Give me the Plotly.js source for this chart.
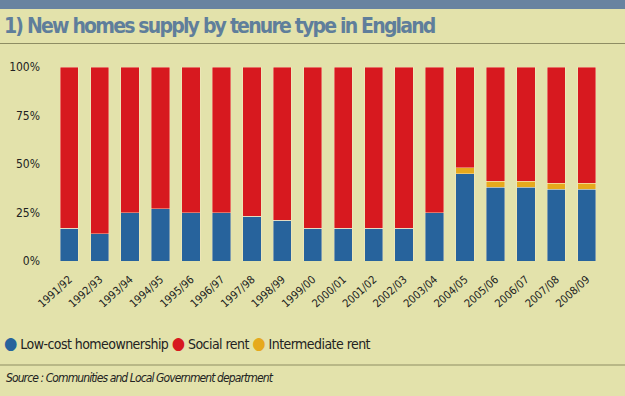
<!DOCTYPE html>
<html><head><meta charset="utf-8">
<script src="https://cdn.plot.ly/plotly-3.0.1.min.js"></script>
<style>html,body{margin:0;padding:0;background:#e3e2ab;}</style>
</head><body><div id="chart" style="width:625px;height:396px;"></div>
<script>
const years = ["1991/92","1992/93","1993/94","1994/95","1995/96","1996/97","1997/98","1998/99","1999/00","2000/01","2001/02","2002/03","2003/04","2004/05","2005/06","2006/07","2007/08","2008/09"];
const lowCost = [17,14,25,27,25,25,23,21,17,17,17,17,25,45,38,38,37,37];
const intermediate = [0,0,0,0,0,0,0,0,0,0,0,0,0,3,3,3,3,3];
const social = [83,86,75,73,75,75,77,79,83,83,83,83,75,52,59,59,60,60];
const yTicks = [0,25,50,75,100];
const yTickText = ["0%","25%","50%","75%","100%"];

const W = 625, H = 396, M = {l:54, r:23, t:67, b:135};
const plotH = H - M.t - M.b;
const py = y => (H - M.b - y) / plotH;   // pixel row -> paper y
const plotW = W - M.l - M.r;
const px = x => (x - M.l) / plotW;       // pixel col -> paper x

const edge = {color:'rgba(250,235,200,0.7)', width:0.6};
const traces = [
  {type:'bar', name:'Low-cost homeownership', x:years, y:lowCost, marker:{color:'#27639c', line:edge}, showlegend:false, hoverinfo:'skip'},
  {type:'bar', name:'Intermediate rent', x:years, y:intermediate, marker:{color:'#e6a91c', line:edge}, showlegend:false, hoverinfo:'skip'},
  {type:'bar', name:'Social rent', x:years, y:social, marker:{color:'#d7191f', line:edge}, showlegend:false, hoverinfo:'skip'}
];
const cond = '"DejaVu Sans Condensed", "Liberation Sans Narrow", sans-serif';
const layout = {
  width:W, height:H, margin:M,
  paper_bgcolor:'#e3e2ab', plot_bgcolor:'#e3e2ab',
  barmode:'stack', bargap:0.4,
  xaxis:{type:'category', tickangle:-42, showgrid:false, zeroline:false, showline:false, ticks:'',
         ticklabelstandoff:9, tickfont:{family:cond, size:11, color:'#222'}},
  yaxis:{range:[0,100], tickvals:yTicks, ticktext:yTickText, showgrid:false, zeroline:false, showline:false, ticks:'',
         ticklabelstandoff:13, tickfont:{family:cond, size:12, color:'#222'}},
  shapes:[
    {type:'rect', xref:'paper', yref:'paper', x0:px(0), x1:px(W), y0:py(0), y1:py(9), fillcolor:'#6883a0', line:{width:0}},
    {type:'line', xref:'paper', yref:'paper', x0:px(0), x1:px(W), y0:py(43.5), y1:py(43.5), line:{color:'#8e8d63', width:1}},
    {type:'line', xref:'paper', yref:'paper', x0:px(0), x1:px(W), y0:py(365), y1:py(365), line:{color:'#8e8d63', width:1}}
  ],
  annotations:[
    {xref:'paper', yref:'paper', x:px(2), y:py(26), xanchor:'left', yanchor:'middle', showarrow:false,
     text:'<span style="letter-spacing:-1.8px"><b>1) New homes supply by tenure type in England</b></span>', font:{family:cond, size:21, color:'#5f7e9b'}},
    {xref:'paper', yref:'paper', x:px(2), y:py(343), xanchor:'left', yanchor:'middle', showarrow:false,
     text:'<span style="letter-spacing:-0.55px"><span style="color:#27639c;font-size:17px">●</span> Low-cost homeownership <span style="color:#d7191f;font-size:17px">●</span> Social rent <span style="color:#e6a91c;font-size:17px">●</span> Intermediate rent</span>',
     font:{family:cond, size:14, color:'#222'}},
    {xref:'paper', yref:'paper', x:px(4), y:py(378), xanchor:'left', yanchor:'middle', showarrow:false,
     text:'<span style="letter-spacing:-0.9px"><i>Source : Communities and Local Government department</i></span>', font:{family:cond, size:12, color:'#222'}}
  ]
};
Plotly.newPlot('chart', traces, layout, {displayModeBar:false, staticPlot:true});
</script></body></html>
